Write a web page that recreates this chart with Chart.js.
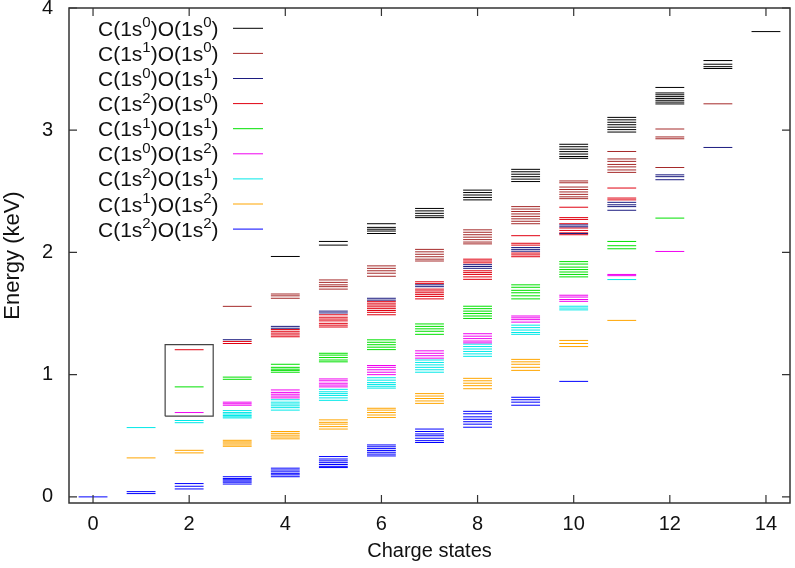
<!DOCTYPE html>
<html>
<head>
<meta charset="utf-8">
<script src="https://cdn.jsdelivr.net/npm/chart.js@4"></script>
<style>
  html, body { margin: 0; padding: 0; background: #fff; }
  canvas { display: block; }
</style>
</head>
<body>
<canvas id="levelChart" width="795" height="568"></canvas>
<script>
// levels per configuration: [charge state, [energies in keV]]
const c0o0 = [
  [4, [1.967]],
  [5, [2.09, 2.06]],
  [6, [2.235, 2.205, 2.19, 2.175, 2.155]],
  [7, [2.36, 2.34, 2.32, 2.30, 2.285]],
  [8, [2.51, 2.49, 2.47, 2.45, 2.43]],
  [9, [2.68, 2.66, 2.64, 2.62, 2.60, 2.58]],
  [10, [2.885, 2.865, 2.845, 2.825, 2.805, 2.785, 2.77]],
  [11, [3.105, 3.085, 3.065, 3.045, 3.025, 3.005, 2.985]],
  [12, [3.35, 3.305, 3.29, 3.275, 3.26, 3.245, 3.23, 3.215]],
  [13, [3.57, 3.54, 3.52, 3.505]],
  [14, [3.807]]
];
const c1o0 = [
  [3, [1.559]],
  [4, [1.66, 1.645, 1.625]],
  [5, [1.775, 1.755, 1.735, 1.72, 1.70]],
  [6, [1.89, 1.87, 1.85, 1.83, 1.805]],
  [7, [2.025, 2.005, 1.985, 1.965, 1.945, 1.93]],
  [8, [2.185, 2.165, 2.145, 2.125, 2.105, 2.085, 2.07]],
  [9, [2.375, 2.355, 2.335, 2.315, 2.295, 2.275, 2.255, 2.235]],
  [10, [2.585, 2.57, 2.535, 2.515, 2.495, 2.475, 2.455, 2.44]],
  [11, [2.826, 2.765, 2.745, 2.72, 2.70, 2.675, 2.655]],
  [12, [3.01, 2.945, 2.93, 2.695]],
  [13, [3.216]]
];
const c0o1 = [
  [3, [1.286]],
  [4, [1.395, 1.38]],
  [5, [1.52, 1.505]],
  [6, [1.625, 1.61]],
  [7, [1.735, 1.72]],
  [8, [1.90, 1.885, 1.87]],
  [9, [2.04, 2.025, 2.01]],
  [10, [2.225, 2.21, 2.155]],
  [11, [2.41, 2.39, 2.375, 2.345]],
  [12, [2.635, 2.62, 2.595]],
  [13, [2.859]]
];
const c2o0 = [
  [2, [1.204]],
  [3, [1.272, 1.255]],
  [4, [1.37, 1.355, 1.34, 1.325, 1.31]],
  [5, [1.49, 1.47, 1.455, 1.44, 1.42, 1.405, 1.39]],
  [6, [1.60, 1.585, 1.57, 1.555, 1.54, 1.525, 1.51, 1.49]],
  [7, [1.76, 1.745, 1.70, 1.685, 1.67, 1.655, 1.64, 1.62]],
  [8, [1.945, 1.93, 1.915, 1.85, 1.835, 1.82, 1.80, 1.78]],
  [9, [2.137, 2.075, 2.06, 1.995, 1.98, 1.965]],
  [10, [2.37, 2.285, 2.27, 2.235, 2.20, 2.18, 2.16, 2.145]],
  [11, [2.527, 2.445, 2.43]]
];
const c1o1 = [
  [2, [0.90]],
  [3, [0.98, 0.962]],
  [4, [1.085, 1.06, 1.045, 1.035, 1.02]],
  [5, [1.175, 1.16, 1.14, 1.12, 1.105]],
  [6, [1.285, 1.265, 1.245, 1.225, 1.205]],
  [7, [1.415, 1.395, 1.375, 1.355, 1.33]],
  [8, [1.56, 1.54, 1.52, 1.50, 1.48, 1.46]],
  [9, [1.735, 1.715, 1.69, 1.67, 1.645, 1.62]],
  [10, [1.925, 1.905, 1.88, 1.86, 1.84, 1.82, 1.80]],
  [11, [2.09, 2.055, 2.03]],
  [12, [2.281]]
];
const c0o2 = [
  [2, [0.69]],
  [3, [0.775, 0.762, 0.75]],
  [4, [0.875, 0.855, 0.84, 0.825, 0.81]],
  [5, [0.965, 0.95, 0.93, 0.915, 0.90]],
  [6, [1.075, 1.06, 1.04, 1.02, 1.0]],
  [7, [1.195, 1.175, 1.155, 1.135]],
  [8, [1.335, 1.315, 1.295, 1.275, 1.26]],
  [9, [1.48, 1.465, 1.45, 1.43]],
  [10, [1.65, 1.635, 1.615, 1.60]],
  [11, [1.82, 1.81]],
  [12, [2.008]]
];
const c2o1 = [
  [1, [0.567]],
  [2, [0.625, 0.607]],
  [3, [0.706, 0.69, 0.678, 0.666, 0.655, 0.646]],
  [4, [0.795, 0.775, 0.76, 0.745, 0.73, 0.71]],
  [5, [0.88, 0.86, 0.845, 0.83, 0.81, 0.79]],
  [6, [0.975, 0.955, 0.935, 0.92, 0.905, 0.89]],
  [7, [1.12, 1.10, 1.08, 1.06, 1.04, 1.02]],
  [8, [1.25, 1.23, 1.21, 1.19, 1.17, 1.15]],
  [9, [1.405, 1.385, 1.365, 1.345, 1.33]],
  [10, [1.56, 1.545, 1.53]],
  [11, [1.778]]
];
const c1o2 = [
  [1, [0.319]],
  [2, [0.381, 0.36]],
  [3, [0.463, 0.45, 0.44, 0.425, 0.414]],
  [4, [0.535, 0.52, 0.505, 0.49, 0.475]],
  [5, [0.63, 0.61, 0.595, 0.575, 0.555]],
  [6, [0.725, 0.71, 0.69, 0.67, 0.65]],
  [7, [0.845, 0.825, 0.805, 0.785, 0.765]],
  [8, [0.97, 0.95, 0.93, 0.91, 0.885]],
  [9, [1.125, 1.105, 1.085, 1.06, 1.035]],
  [10, [1.28, 1.255, 1.23]],
  [11, [1.444]]
];
const c2o2 = [
  [0, [0.0]],
  [1, [0.043, 0.027]],
  [2, [0.109, 0.087, 0.065]],
  [3, [0.165, 0.15, 0.14, 0.13, 0.12, 0.105]],
  [4, [0.235, 0.22, 0.205, 0.19, 0.18, 0.165]],
  [5, [0.33, 0.31, 0.295, 0.28, 0.265, 0.25, 0.24]],
  [6, [0.425, 0.41, 0.395, 0.38, 0.365, 0.35, 0.335]],
  [7, [0.555, 0.535, 0.515, 0.50, 0.48, 0.46, 0.445]],
  [8, [0.70, 0.68, 0.655, 0.635, 0.615, 0.595, 0.57]],
  [9, [0.815, 0.795, 0.775, 0.75]],
  [10, [0.945]]
];

// occupation of C 1s and O 1s for each series, legend order
const configs = [[0, 0], [1, 0], [0, 1], [2, 0], [1, 1], [0, 2], [2, 1], [1, 2], [2, 2]];
const seriesData = [c0o0, c1o0, c0o1, c2o0, c1o1, c0o2, c2o1, c1o2, c2o2];
const colors = ['#000000', '#a52a2a', '#1c1c80', '#e00010', '#00e000', '#f000f0', '#00e8e8', '#ffa500', '#0000ff'];

// highlight box around the charge 2 levels
const boxX = [1.5, 2.5];
const boxY = [0.66, 1.245];

const xTicks = [0, 2, 4, 6, 8, 10, 12, 14];
const yTicks = [0, 1, 2, 3, 4];

const halfWidth = 0.3;
const fontFamily = '"Liberation Sans", Arial, sans-serif';

function levelPoints(series) {
  const pts = [];
  series.forEach(([q, energies]) => {
    energies.forEach(e => {
      pts.push({ x: q - halfWidth, y: e }, { x: q + halfWidth, y: e }, { x: q, y: null });
    });
  });
  return pts;
}

const datasets = seriesData.map((s, i) => ({
  label: 'C(1s' + configs[i][0] + ')O(1s' + configs[i][1] + ')',
  data: levelPoints(s),
  borderColor: colors[i],
  borderWidth: 1,
  pointRadius: 0,
  showLine: true,
  spanGaps: false,
  order: i
}));

datasets.push({
  label: 'box',
  data: [
    { x: boxX[0], y: boxY[0] }, { x: boxX[1], y: boxY[0] },
    { x: boxX[1], y: boxY[1] }, { x: boxX[0], y: boxY[1] },
    { x: boxX[0], y: boxY[0] }
  ],
  borderColor: '#444',
  borderWidth: 1.2,
  pointRadius: 0,
  showLine: true
});

const frame = {
  id: 'frame',
  afterDraw(chart) {
    const { ctx, chartArea: a, scales: { x, y } } = chart;
    ctx.save();
    ctx.strokeStyle = '#333';
    ctx.lineWidth = 1.5;
    ctx.strokeRect(a.left, a.top, a.right - a.left, a.bottom - a.top);

    ctx.lineWidth = 1.2;
    ctx.beginPath();
    xTicks.forEach(v => {
      const px = x.getPixelForValue(v);
      ctx.moveTo(px, a.bottom); ctx.lineTo(px, a.bottom - 8);
      ctx.moveTo(px, a.top); ctx.lineTo(px, a.top + 8);
    });
    yTicks.forEach(v => {
      const py = y.getPixelForValue(v);
      ctx.moveTo(a.left, py); ctx.lineTo(a.left + 8, py);
      ctx.moveTo(a.right, py); ctx.lineTo(a.right - 8, py);
    });
    ctx.stroke();

    // legend with superscripts
    ctx.fillStyle = '#111';
    ctx.textBaseline = 'alphabetic';
    configs.forEach(([c, o], i) => {
      const rowY = 28.3 + i * 25.1;
      const base = rowY + 7.5;
      let tx = 98;
      const parts = [['C(1s', false], [String(c), true], [')O(1s', false], [String(o), true], [')', false]];
      parts.forEach(([t, sup]) => {
        ctx.font = (sup ? '15px ' : '21px ') + fontFamily;
        ctx.fillText(t, tx, sup ? base - 8.5 : base);
        tx += ctx.measureText(t).width;
      });
      ctx.strokeStyle = colors[i];
      ctx.lineWidth = 1;
      ctx.beginPath();
      ctx.moveTo(233, rowY);
      ctx.lineTo(263, rowY);
      ctx.stroke();
    });
    ctx.restore();
  }
};

new Chart(document.getElementById('levelChart'), {
  type: 'scatter',
  data: { datasets },
  options: {
    responsive: false,
    animation: false,
    devicePixelRatio: 1,
    layout: { padding: { left: 0, right: 5, top: 8, bottom: 0 } },
    plugins: {
      legend: { display: false },
      tooltip: { enabled: false }
    },
    scales: {
      x: {
        type: 'linear',
        min: -0.5,
        max: 14.5,
        afterBuildTicks: s => { s.ticks = xTicks.map(v => ({ value: v })); },
        afterFit: s => { s.height = 65; s.paddingLeft = 0; s.paddingRight = 0; },
        grid: { display: false },
        border: { display: false },
        ticks: { padding: 1, color: '#111', font: { size: 20, family: fontFamily } },
        title: {
          display: true,
          text: 'Charge states',
          color: '#111',
          font: { size: 20, family: fontFamily },
          padding: { top: 0, bottom: 5 }
        }
      },
      y: {
        type: 'linear',
        min: -0.05,
        max: 4,
        afterBuildTicks: s => { s.ticks = yTicks.map(v => ({ value: v })); },
        afterFit: s => { s.width = 69; s.paddingTop = 0; s.paddingBottom = 0; },
        grid: { display: false },
        border: { display: false },
        ticks: { padding: 8, color: '#111', font: { size: 20, family: fontFamily } },
        title: {
          display: true,
          text: 'Energy (keV)',
          color: '#111',
          font: { size: 22, family: fontFamily },
          padding: { top: 0, bottom: 0 }
        }
      }
    }
  },
  plugins: [frame]
});
</script>
</body>
</html>
